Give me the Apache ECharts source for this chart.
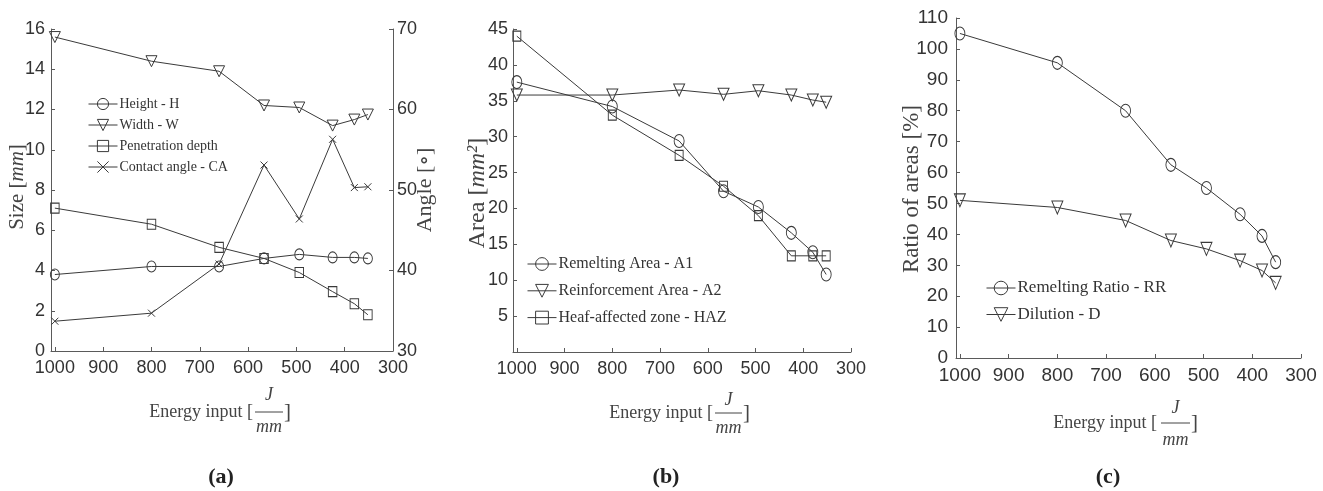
<!DOCTYPE html>
<html>
<head>
<meta charset="utf-8">
<script src="https://cdn.jsdelivr.net/npm/echarts@6/dist/echarts.min.js"></script>
<style>
html,body{margin:0;padding:0;background:#fff;}
#chart{width:1323px;height:491px;}
</style>
</head>
<body>
<div id="chart"></div>
<script>
// ---- data ----
const energyInput = [1000, 800, 660, 567, 494, 425, 380, 352];
const xTicks = [1000, 900, 800, 700, 600, 500, 400, 300];

// panel (a)
const heightH = [3.8, 4.2, 4.2, 4.6, 4.8, 4.65, 4.65, 4.6];
const widthW = [15.6, 14.4, 13.9, 12.2, 12.1, 11.2, 11.5, 11.75];
const penetrationDepth = [7.1, 6.3, 5.15, 4.6, 3.9, 2.95, 2.35, 1.8];
const contactAngle = [33.7, 34.7, 40.8, 53.1, 46.4, 56.3, 50.3, 50.4];

// panel (b)
const remeltingArea = [37.6, 34.2, 29.4, 22.4, 20.2, 16.6, 13.9, 10.8];
const reinforcementArea = [35.8, 35.8, 36.5, 35.9, 36.4, 35.8, 35.1, 34.8];
const hazArea = [44, 33, 27.4, 23.1, 19, 13.4, 13.4, 13.4];

// panel (c)
const remeltingRatio = [105, 95.5, 80, 62.5, 55, 46.5, 39.5, 31];
const dilution = [51, 48.7, 44.5, 38, 35.3, 31.5, 28.3, 24.3];

// ---- styling helpers ----
const INK = '#3a3a3a';
const AX = '#5a5a5a';
const TXT = '#333';
const NUMFONT = '"Liberation Sans Narrow","Liberation Sans",Arial,sans-serif';
const SERIF = '"Liberation Serif","DejaVu Serif",serif';

const pairs = (ys) => energyInput.map((x, i) => [x, ys[i]]);
const CROSS = 'path://M0,0L10,10M10,0L0,10';
const plain = (v) => String(v);

function mkSeries(name, ys, xi, yi, symbol, size, rotate) {
  return {
    name, type: 'line', xAxisIndex: xi, yAxisIndex: yi,
    data: pairs(ys), symbol, symbolSize: size, symbolRotate: rotate || 0,
    symbolKeepAspect: false,
    lineStyle: { color: INK, width: 1 },
    itemStyle: { color: 'rgba(255,255,255,0)', borderColor: INK, borderWidth: 1 },
    emphasis: { disabled: true },
    z: 3
  };
}

function mkX(gi, fs) {
  return {
    type: 'value', gridIndex: gi, min: 300, max: 1008, inverse: true,
    axisLine: { show: true, onZero: false, lineStyle: { color: AX, width: 1 } },
    axisTick: { show: true, inside: true, length: 4, lineStyle: { color: AX }, customValues: xTicks },
    axisLabel: { color: TXT, fontFamily: NUMFONT, fontSize: fs, margin: 8, customValues: xTicks, formatter: plain },
    splitLine: { show: false }
  };
}

function mkY(gi, min, max, interval, fs, margin, opts) {
  return Object.assign({
    type: 'value', gridIndex: gi, min, max, interval,
    axisLine: { show: true, onZero: false, lineStyle: { color: AX, width: 1 } },
    axisTick: { show: true, inside: true, length: 4, lineStyle: { color: AX } },
    axisLabel: { color: TXT, fontFamily: NUMFONT, fontSize: fs, margin, formatter: plain },
    splitLine: { show: false }
  }, opts || {});
}

function mkLegend(names, left, top, gap, ih, fs) {
  return {
    data: names, orient: 'vertical', left, top, padding: 0,
    itemWidth: 29, itemHeight: ih, itemGap: gap,
    selectedMode: false,
    itemStyle: { borderWidth: 1 },
    lineStyle: { width: 1 },
    textStyle: { color: TXT, fontFamily: SERIF, fontSize: fs, padding: [0, 0, 0, -3] }
  };
}

function energyTitle(textRight, yMid, fracL, fracR, jY, lineY, mmY, fs) {
  const cx = (fracL + fracR) / 2;
  return [
    { type: 'text', x: textRight, y: yMid, style: { text: 'Energy input [', align: 'right', verticalAlign: 'middle', fill: '#444', font: fs + 'px ' + SERIF } },
    { type: 'text', x: cx, y: jY, style: { text: 'J', align: 'center', verticalAlign: 'middle', fill: '#444', font: 'italic ' + fs + 'px ' + SERIF } },
    { type: 'line', shape: { x1: fracL, y1: lineY, x2: fracR, y2: lineY }, style: { stroke: '#444', lineWidth: 1 } },
    { type: 'text', x: cx, y: mmY, style: { text: 'mm', align: 'center', verticalAlign: 'middle', fill: '#444', font: 'italic ' + fs + 'px ' + SERIF } },
    { type: 'text', x: fracR + 1, y: lineY, style: { text: ']', align: 'left', verticalAlign: 'middle', fill: '#444', font: (fs + 3) + 'px ' + SERIF } }
  ];
}

function vTitle(x, y, rich, fs) {
  return {
    type: 'text', x, y, rotation: Math.PI / 2,
    style: {
      text: rich, align: 'center', verticalAlign: 'middle', fill: '#444',
      font: fs + 'px ' + SERIF,
      rich: {
        n: { fontFamily: SERIF, fontSize: fs, fill: '#444' },
        i: { fontFamily: SERIF, fontSize: fs, fontStyle: 'italic', fill: '#444' }
      }
    }
  };
}

function caption(x, t) {
  return { type: 'text', x, y: 477, style: { text: t, align: 'center', verticalAlign: 'middle', fill: '#222', font: 'bold 22px ' + SERIF } };
}

const chart = echarts.init(document.getElementById('chart'), null, { renderer: 'canvas' });

const option = {
  backgroundColor: '#fff',
  animation: false,
  grid: [
    { left: 51, top: 29, width: 342, height: 322 },
    { left: 513, top: 29, width: 338, height: 323 },
    { left: 956, top: 18, width: 345, height: 340 }
  ],
  xAxis: [mkX(0, 18), mkX(1, 18), mkX(2, 19)],
  yAxis: [
    mkY(0, 0, 16, 2, 18, 6),
    mkY(0, 30, 70, 10, 18, 4, { position: 'right' }),
    mkY(1, 0, 45, 5, 18, 5, { axisLabel: { color: TXT, fontFamily: NUMFONT, fontSize: 18, margin: 5, showMinLabel: false, formatter: plain } }),
    mkY(2, 0, 110, 10, 19, 8)
  ],
  legend: [
    mkLegend(['Height - H', 'Width - W', 'Penetration depth', 'Contact angle - CA'], 88, 97, 7, 14, 14),
    mkLegend(['Remelting Area - A1', 'Reinforcement Area - A2', 'Heaf-affected zone - HAZ'], 527, 256, 10.8, 16, 16),
    mkLegend(['Remelting Ratio - RR', 'Dilution - D'], 986, 279.5, 9.5, 17, 17)
  ],
  series: [
    mkSeries('Height - H', heightH, 0, 0, 'circle', [9, 11]),
    mkSeries('Width - W', widthW, 0, 0, 'triangle', [11, 11], 180),
    mkSeries('Penetration depth', penetrationDepth, 0, 0, 'rect', [8.5, 10]),
    mkSeries('Contact angle - CA', contactAngle, 0, 1, CROSS, [7, 7]),
    mkSeries('Remelting Area - A1', remeltingArea, 1, 2, 'circle', [10, 13]),
    mkSeries('Reinforcement Area - A2', reinforcementArea, 1, 2, 'triangle', [11, 12], 180),
    mkSeries('Heaf-affected zone - HAZ', hazArea, 1, 2, 'rect', [8, 10]),
    mkSeries('Remelting Ratio - RR', remeltingRatio, 2, 3, 'circle', [10, 13]),
    mkSeries('Dilution - D', dilution, 2, 3, 'triangle', [11, 13], 180)
  ],
  graphic: [
    vTitle(17, 187, '{n|Size [}{i|mm}{n|]}', 21),
    vTitle(425, 190, '{n|Angle [∘]}', 22),
    vTitle(478, 193, '{n|Area [}{i|mm²}{n|]}', 24),
    vTitle(912, 189, '{n|Ratio of areas [%]}', 23),
    ...energyTitle(253, 412, 255, 283, 395, 412, 427, 18),
    ...energyTitle(713, 413, 715, 742, 400, 413, 428, 18),
    ...energyTitle(1157, 423, 1161, 1190, 408, 423, 440, 18),
    caption(221, '(a)'),
    caption(666, '(b)'),
    caption(1108, '(c)')
  ]
};
chart.setOption(option);
</script>
</body>
</html>
